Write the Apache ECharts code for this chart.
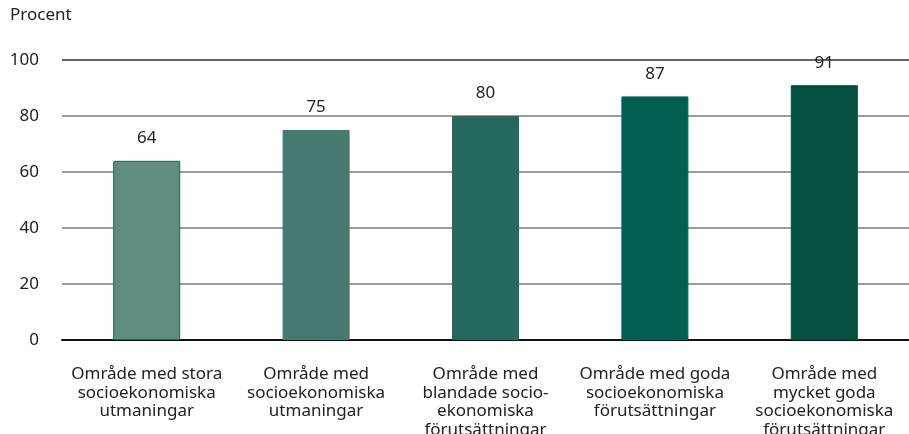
<!DOCTYPE html>
<html><head><meta charset="utf-8">
<script src="https://cdn.jsdelivr.net/npm/echarts@6/dist/echarts.min.js"></script>
<style>html,body{margin:0;padding:0;background:#fff}#c{width:909px;height:434px}</style>
</head><body><div id="c"></div>
<script>
const categories = [
  "Område med stora\nsocioekonomiska\nutmaningar",
  "Område med\nsocioekonomiska\nutmaningar",
  "Område med\nblandade socio-\nekonomiska\nförutsättningar",
  "Område med goda\nsocioekonomiska\nförutsättningar",
  "Område med\nmycket goda\nsocioekonomiska\nförutsättningar"
];
const values = [64, 75, 80, 87, 91];
const barColors = ["#5f8b80", "#467a70", "#25695e", "#006152", "#03503f"];
const yTicks = [0, 20, 40, 60, 80, 100];
const yTitle = "Procent";

const chart = echarts.init(document.getElementById('c'));
const F = "'Noto Sans', sans-serif";
chart.setOption({
  animation: false,
  textStyle: {fontFamily: F},
  graphic: [{type: 'text', left: 10, top: 7, style: {text: yTitle, font: "17px 'Noto Sans'", fill: '#222'}}],
  grid: {left: 62, right: 0, top: 60, bottom: 94, containLabel: false, outerBoundsMode: 'none'},
  xAxis: {
    type: 'category', data: categories,
    axisLine: {lineStyle: {color: '#111', width: 2}},
    axisTick: {show: false},
    axisLabel: {color: '#222', fontSize: 17, lineHeight: 18.5, margin: 25, interval: 0, fontFamily: F}
  },
  yAxis: {
    type: 'value', min: yTicks[0], max: yTicks[yTicks.length - 1], interval: 20,
    axisLine: {show: false}, axisTick: {show: false},
    axisLabel: {color: '#222', fontSize: 17, margin: 23, fontFamily: F},
    splitLine: {lineStyle: {color: ['#7a7a7a', '#7a7a7a', '#7a7a7a', '#7a7a7a', '#7a7a7a', '#333'], width: 1.5}}
  },
  series: [{
    type: 'bar', barWidth: 67,
    data: values.map((v, i) => ({value: v, itemStyle: {color: barColors[i], borderColor: i === 0 ? '#1d6654' : barColors[i], borderWidth: 1}})),
    label: {show: true, position: 'top', distance: 14, color: '#222', fontSize: 17, fontFamily: F}
  }]
});
</script></body></html>
